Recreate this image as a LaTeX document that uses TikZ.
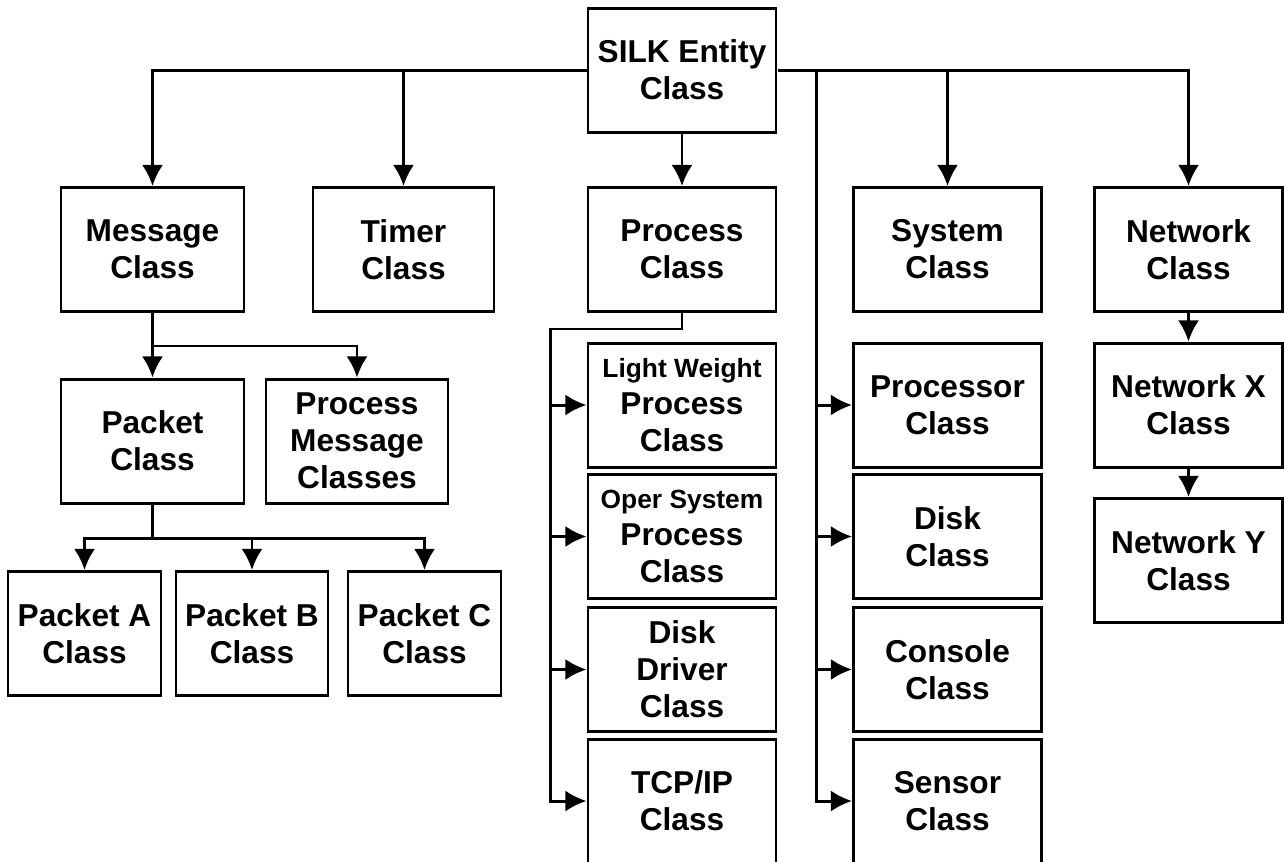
\documentclass[tikz,border=0pt]{standalone}
\usepackage{fontspec}
\setmainfont{Liberation Sans}
\usetikzlibrary{positioning}
\usetikzlibrary{arrows.meta}

\tikzstyle{classbox} = [draw, line width=1.7pt, align=center, minimum width=3.76cm, minimum height=2.48cm, inner sep=0pt, font=\bfseries\fontsize{18}{21}\selectfont]
\tikzstyle{arrow} = [draw, line width=1.7pt, -{Latex[length=12pt,width=12pt]}]
\newcommand{\smallline}[1]{{\fontsize{15}{21}\selectfont #1}}

\begin{document}
\begin{tikzpicture}[node distance=2.63cm, auto]
    \useasboundingbox (0,0) rectangle (25.68,-17.22);

    \node [classbox] (silk) at (13.64,-1.40) {SILK Entity\\Class};
    \node [classbox, below of=silk, node distance=3.59cm] (process) {Process\\Class};
    \node [classbox, left of=process, node distance=5.57cm, minimum width=3.62cm] (timer) {Timer\\Class};
    \node [classbox, left of=timer, node distance=5.02cm, minimum width=3.66cm] (message) {Message\\Class};
    \node [classbox, right of=process, node distance=5.31cm] (system) {System\\Class};
    \node [classbox, right of=system, node distance=4.82cm] (network) {Network\\Class};

    % message branch
    \node [classbox, below of=message, node distance=3.83cm, minimum width=3.66cm] (packet) {Packet\\Class};
    \node [classbox, right of=packet, node distance=4.09cm, minimum width=3.64cm] (procmsg) {Process\\Message\\Classes};
    \node [classbox, below of=packet, xshift=1.99cm, node distance=3.85cm, minimum width=3.04cm] (pktB) {Packet B\\Class};
    \node [classbox, left of=pktB, node distance=3.35cm, minimum width=3.06cm] (pktA) {Packet A\\Class};
    \node [classbox, right of=pktB, node distance=3.45cm, minimum width=3.06cm] (pktC) {Packet C\\Class};

    % process branch
    \node [classbox, below of=process, node distance=3.11cm] (lwp) {\smallline{Light Weight}\\Process\\Class};
    \node [classbox, below of=lwp] (oper) {\smallline{Oper System}\\Process\\Class};
    \node [classbox, below of=oper, node distance=2.66cm] (ddrv) {Disk\\Driver\\Class};
    \node [classbox, below of=ddrv] (tcpip) {TCP/IP\\Class};

    % system branch
    \node [classbox, below of=system, node distance=3.11cm] (processor) {Processor\\Class};
    \node [classbox, below of=processor] (disk) {Disk\\Class};
    \node [classbox, below of=disk, node distance=2.66cm] (console) {Console\\Class};
    \node [classbox, below of=console] (sensor) {Sensor\\Class};

    % network branch
    \node [classbox, below of=network, node distance=3.11cm] (netx) {Network X\\Class};
    \node [classbox, below of=netx, node distance=3.11cm] (nety) {Network Y\\Class};

    \coordinate (sysbus) at ([xshift=0.78cm]silk.east);
    \coordinate (msgbus) at ([yshift=-0.66cm]message.south);
    \coordinate (pktbus) at ([yshift=-0.68cm]packet.south);
    \coordinate (procbus) at ([yshift=-0.32cm]process.south);
    \coordinate (proctrunk) at ([xshift=-0.72cm]lwp.west);

    \draw [arrow] (silk.west) -| (message.north);
    \draw [arrow] (silk.west) -| (timer.north);
    \draw [arrow] (silk.south) -- (process.north);
    \draw [arrow] (silk.east) -| (system.north);
    \draw [arrow] (silk.east) -| (network.north);

    \draw [arrow] (message.south) -- (packet.north);
    \draw [arrow] (msgbus) -| (procmsg.north);
    \draw [line width=1.7pt] (packet.south) -- (pktbus);
    \draw [arrow] (pktbus) -| (pktA.north);
    \draw [arrow] (pktbus) -| (pktB.north);
    \draw [arrow] (pktbus) -| (pktC.north);

    \draw [arrow] (process.south) -- (procbus) -| (proctrunk) -- (lwp.west);
    \draw [arrow] (proctrunk) |- (oper.west);
    \draw [arrow] (proctrunk) |- (ddrv.west);
    \draw [arrow] (proctrunk) |- (tcpip.west);

    \draw [arrow] (sysbus) |- (processor.west);
    \draw [arrow] (sysbus) |- (disk.west);
    \draw [arrow] (sysbus) |- (console.west);
    \draw [arrow] (sysbus) |- (sensor.west);

    \draw [arrow] (network.south) -- (netx.north);
    \draw [arrow] (netx.south) -- (nety.north);
  \end{tikzpicture}
\end{document}
